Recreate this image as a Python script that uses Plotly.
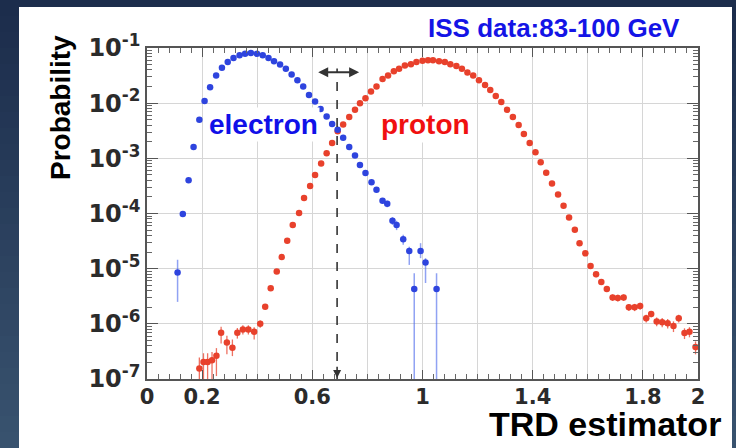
import numpy as np
import plotly.graph_objects as go

# ---------------------------------------------------------------------------
# TRD estimator distributions (ISS data, 83-100 GeV)
# ---------------------------------------------------------------------------
electron_x = [0.111, 0.130, 0.151, 0.169, 0.190, 0.209, 0.229, 0.251, 0.272, 0.293,
              0.314, 0.336, 0.356, 0.377, 0.399, 0.420, 0.441, 0.461, 0.483, 0.504,
              0.525, 0.546, 0.567, 0.588, 0.610, 0.630, 0.652, 0.672, 0.692, 0.712,
              0.734, 0.755, 0.773, 0.793, 0.815, 0.833, 0.855, 0.872, 0.891, 0.906,
              0.930, 0.952, 0.970, 0.993, 1.011, 1.051]
electron_p = [8.5e-6, 9.8e-5, 4.0e-4, 1.6e-3, 5.0e-3, 1.1e-2, 1.95e-2, 3.16e-2, 4.4e-2, 5.6e-2,
              6.6e-2, 7.4e-2, 7.9e-2, 8.1e-2, 7.9e-2, 7.4e-2, 6.6e-2, 5.75e-2, 5.0e-2, 4.2e-2,
              3.3e-2, 2.6e-2, 2.0e-2, 1.4e-2, 1.07e-2, 7.8e-3, 5.75e-3, 4.2e-3, 3.3e-3, 2.35e-3,
              1.6e-3, 1.12e-3, 7.6e-4, 5.4e-4, 3.7e-4, 2.7e-4, 1.7e-4, 1.5e-4, 7.4e-5, 6.2e-5,
              3.4e-5, 2.1e-5, 4.3e-6, 2.1e-5, 1.3e-5, 4.3e-6]
electron_err_up = [6e-6, 0, 0, 0, 0, 0, 0, 0, 0, 0,
                   0, 0, 0, 0, 0, 0, 0, 0, 0, 0,
                   0, 0, 0, 0, 0, 0, 0, 0, 0, 0,
                   0, 0, 0, 0, 0, 0, 0, 2e-5, 1.2e-5, 1.2e-5,
                   7e-6, 4e-6, 4e-6, 8e-6, 2.5e-6, 4e-6]
electron_err_dn = [6e-6, 0, 0, 0, 0, 0, 0, 0, 0, 0,
                   0, 0, 0, 0, 0, 0, 0, 0, 0, 0,
                   0, 0, 0, 0, 0, 0, 0, 0, 0, 0,
                   0, 0, 0, 0, 0, 0, 0, 2e-5, 1.2e-5, 1.2e-5,
                   7e-6, 9.3e-6, 4.3e-6, 5.5e-6, 7.5e-6, 4.3e-6]

proton_x = [0.190, 0.205, 0.220, 0.236, 0.252, 0.269, 0.290, 0.310, 0.328, 0.348,
            0.368, 0.389, 0.411, 0.429, 0.449, 0.471, 0.489, 0.509, 0.529, 0.552,
            0.570, 0.592, 0.610, 0.632, 0.652, 0.672, 0.692, 0.712, 0.734, 0.755,
            0.773, 0.793, 0.813, 0.833, 0.855, 0.875, 0.896, 0.915, 0.936, 0.958,
            0.978, 1.000, 1.020, 1.038, 1.060, 1.081, 1.101, 1.123, 1.143, 1.163,
            1.184, 1.205, 1.227, 1.246, 1.266, 1.286, 1.307, 1.328, 1.349, 1.368,
            1.389, 1.410, 1.429, 1.449, 1.470, 1.492, 1.512, 1.532, 1.553, 1.570,
            1.591, 1.610, 1.630, 1.649, 1.669, 1.690, 1.709, 1.730, 1.749, 1.770,
            1.790, 1.812, 1.830, 1.850, 1.870, 1.890, 1.911, 1.930, 1.951, 1.969,
            1.991]
proton_p = [1.55e-7, 2.04e-7, 2.04e-7, 2.19e-7, 2.63e-7, 6.9e-7, 4.6e-7, 3.7e-7, 6.9e-7, 7.9e-7,
            7.9e-7, 7.2e-7, 1.0e-6, 2.04e-6, 4.4e-6, 8.9e-6, 1.62e-5, 3.2e-5, 6.2e-5, 1.02e-4,
            1.9e-4, 3.16e-4, 5.0e-4, 8.1e-4, 1.23e-3, 1.9e-3, 3.1e-3, 4.1e-3, 5.6e-3, 7.6e-3,
            1.0e-2, 1.23e-2, 1.62e-2, 2.0e-2, 2.75e-2, 3.16e-2, 3.8e-2, 4.2e-2, 4.8e-2, 5.1e-2,
            5.6e-2, 5.9e-2, 6.0e-2, 6.0e-2, 5.75e-2, 5.6e-2, 5.1e-2, 4.7e-2, 4.2e-2, 3.6e-2,
            3.16e-2, 2.6e-2, 2.14e-2, 1.74e-2, 1.35e-2, 1.05e-2, 7.6e-3, 5.6e-3, 4.0e-3, 2.75e-3,
            1.9e-3, 1.29e-3, 8.5e-4, 5.5e-4, 3.5e-4, 2.2e-4, 1.38e-4, 8.5e-5, 5.1e-5, 2.9e-5,
            1.9e-5, 1.12e-5, 7.9e-6, 5.75e-6, 4.3e-6, 3.0e-6, 2.95e-6, 3.0e-6, 2.0e-6, 2.0e-6,
            2.1e-6, 1.26e-6, 1.51e-6, 1.1e-6, 1.07e-6, 1.02e-6, 9.1e-7, 1.26e-6, 6.8e-7, 7.2e-7,
            3.8e-7]
proton_err_up = [0.9e-7, 0.9e-7, 0.9e-7, 0.9e-7, 1.0e-7, 2.0e-7, 1.5e-7, 1.5e-7, 1.5e-7, 1.5e-7,
                 1.5e-7, 1.5e-7, 1.5e-7, 0, 0, 0, 0, 0, 0, 0,
                 0, 0, 0, 0, 0, 0, 0, 0, 0, 0,
                 0, 0, 0, 0, 0, 0, 0, 0, 0, 0,
                 0, 0, 0, 0, 0, 0, 0, 0, 0, 0,
                 0, 0, 0, 0, 0, 0, 0, 0, 0, 0,
                 0, 0, 0, 0, 0, 0, 0, 0, 0, 0,
                 0, 1.2e-6, 0.9e-6, 0.7e-6, 0.5e-6, 0.4e-6, 0.4e-6, 0.4e-6, 0.3e-6, 0.3e-6,
                 0.3e-6, 0.2e-6, 0.2e-6, 0.2e-6, 0.2e-6, 0.2e-6, 0.2e-6, 0.2e-6, 0.15e-6, 0.15e-6,
                 0.1e-6]
proton_err_dn = [1.55e-7, 2.04e-7, 2.04e-7, 1.6e-7, 1.5e-7, 2.5e-7, 1.8e-7, 1.1e-7, 1.5e-7, 1.5e-7,
                 1.5e-7, 2.0e-7, 1.5e-7, 0, 0, 0, 0, 0, 0, 0,
                 0, 0, 0, 0, 0, 0, 0, 0, 0, 0,
                 0, 0, 0, 0, 0, 0, 0, 0, 0, 0,
                 0, 0, 0, 0, 0, 0, 0, 0, 0, 0,
                 0, 0, 0, 0, 0, 0, 0, 0, 0, 0,
                 0, 0, 0, 0, 0, 0, 0, 0, 0, 0,
                 0, 1.2e-6, 0.9e-6, 0.7e-6, 0.5e-6, 0.4e-6, 0.4e-6, 0.4e-6, 0.3e-6, 0.3e-6,
                 0.3e-6, 0.2e-6, 0.2e-6, 0.2e-6, 0.2e-6, 0.2e-6, 0.2e-6, 0.2e-6, 0.15e-6, 0.15e-6,
                 0.1e-6]

# electron/proton separation cut and its scan range
cut_x = 0.69
cut_range = [0.616, 0.770]

# axis ticks
x_tick_vals = [0, 0.2, 0.4, 0.6, 0.8, 1.0, 1.2, 1.4, 1.6, 1.8, 2.0]
x_tick_text = ["0", "0.2", "", "0.6", "", "1", "", "1.4", "", "1.8", "2"]
y_tick_vals = [1e-7, 1e-6, 1e-5, 1e-4, 1e-3, 1e-2, 1e-1]
y_tick_text = ["10<sup>-7</sup>", "10<sup>-6</sup>", "10<sup>-5</sup>", "10<sup>-4</sup>",
               "10<sup>-3</sup>", "10<sup>-2</sup>", "10<sup>-1</sup>"]

# ---------------------------------------------------------------------------
FONT = "Liberation Sans, Arial, Helvetica, sans-serif"
TICK_FONT = "DejaVu Sans, Liberation Sans, Arial, sans-serif"
W, H = 736, 448
L, R, T, B = 147, 38, 48, 69
PW, PH = W - L - R, H - T - B


def px(xp):
    """pixel column -> paper x"""
    return (xp - L) / PW


def py(yp):
    """pixel row -> paper y"""
    return (H - B - yp) / PH


fig = go.Figure()

fig.add_trace(go.Scatter(
    x=proton_x, y=proton_p, mode="markers", name="proton",
    marker=dict(size=6.5, color="#e8412c", line=dict(width=0)),
    error_y=dict(type="data", symmetric=False, array=proton_err_up,
                 arrayminus=proton_err_dn, color="rgba(232,65,44,0.75)",
                 thickness=1.3, width=0),
    showlegend=False,
))
fig.add_trace(go.Scatter(
    x=electron_x, y=electron_p, mode="markers", name="electron",
    marker=dict(size=6.5, color="#2e44de", line=dict(width=0)),
    error_y=dict(type="data", symmetric=False, array=electron_err_up,
                 arrayminus=electron_err_dn, color="rgba(70,100,235,0.6)",
                 thickness=1.5, width=0),
    showlegend=False,
))

axis_common = dict(
    showline=True, linecolor="#555555", linewidth=1.5, mirror="ticks",
    ticks="inside", tickcolor="#555555", tickwidth=1.2,
    showgrid=True, gridcolor="#d6d6d6", gridwidth=1, zeroline=False,
)

fig.update_xaxes(
    range=[0, 2], tickmode="array", tickvals=x_tick_vals, ticktext=x_tick_text,
    ticklen=9, ticklabelstandoff=-2,
    tickfont=dict(family=TICK_FONT, size=21, color="#2b2b2b", weight="bold"),
    minor=dict(tickmode="array", tickvals=list(np.round(np.arange(0, 2.001, 0.04), 3)),
               ticks="inside", ticklen=5, tickcolor="#666666", showgrid=False),
    **axis_common,
)
fig.update_yaxes(
    type="log", range=[-7, -1], tickmode="array", tickvals=y_tick_vals,
    ticktext=y_tick_text, ticklen=11,
    tickfont=dict(family=TICK_FONT, size=24, color="#2b2b2b", weight="bold"),
    minor=dict(tickmode="array",
               tickvals=[m * 10.0 ** e for e in range(-7, -1) for m in range(2, 10)],
               ticks="inside", ticklen=5, tickcolor="#666666", showgrid=False),
    **axis_common,
)

# slide background: dark navy at the top fading to a lighter slate blue
shapes = []
top_rgb = np.array([28, 45, 76])
bot_rgb = np.array([58, 84, 112])
band = 16
for y0 in range(0, H, band):
    t = y0 / H
    r, g, b = (top_rgb + (bot_rgb - top_rgb) * t).astype(int)
    shapes.append(dict(type="rect", xref="paper", yref="paper", layer="below",
                       x0=px(0), x1=px(W), y0=py(min(y0 + band, H) + 1), y1=py(y0),
                       fillcolor=f"rgb({r},{g},{b})", line=dict(width=0)))

shapes += [
    # white panel on the slide
    dict(type="rect", xref="paper", yref="paper", layer="below",
         x0=px(19), x1=px(732), y0=py(H + 2), y1=py(7),
         fillcolor="white", line=dict(width=0)),
    # dashed cut line
    dict(type="line", xref="x", yref="y", x0=cut_x, x1=cut_x, y0=1e-7, y1=10 ** -1.37,
         line=dict(color="#333333", width=1.6, dash="dash")),
]

annotations = [
    dict(text="Probability", xref="paper", yref="paper", x=px(60), y=py(108),
         textangle=-90, showarrow=False, xanchor="center", yanchor="middle",
         font=dict(family=FONT, size=28, color="black", weight="bold")),
    dict(text="TRD estimator", xref="paper", yref="paper", x=px(723), y=py(424),
         showarrow=False, xanchor="right", yanchor="middle",
         font=dict(family=FONT, size=34, color="black", weight="bold")),
    dict(text="ISS data:83-100 GeV", xref="paper", yref="paper", x=px(682), y=py(28),
         showarrow=False, xanchor="right", yanchor="middle",
         font=dict(family=FONT, size=26, color="#1414e6", weight="bold")),
    dict(text="electron", xref="paper", yref="paper", x=px(263), y=py(125),
         showarrow=False, xanchor="center", yanchor="middle", bgcolor="white",
         borderpad=1,
         font=dict(family=FONT, size=28, color="#1010e8", weight="bold")),
    dict(text="proton", xref="paper", yref="paper", x=px(425), y=py(125),
         showarrow=False, xanchor="center", yanchor="middle", bgcolor="white",
         borderpad=2,
         font=dict(family=FONT, size=28, color="#f01010", weight="bold")),
    # double-headed arrow showing the cut scan range (log10 units on y)
    dict(text="", x=cut_range[1], y=-1.44, ax=cut_range[0], ay=-1.44,
         xref="x", yref="y", axref="x", ayref="y", showarrow=True,
         arrowhead=2, startarrowhead=2, arrowside="end+start", arrowsize=1,
         startarrowsize=1, arrowwidth=2, arrowcolor="#333333"),
    # arrow head at the bottom of the cut line
    dict(text="", x=cut_x, y=-6.98, ax=cut_x, ay=-6.75,
         xref="x", yref="y", axref="x", ayref="y", showarrow=True,
         arrowhead=2, arrowsize=1, arrowwidth=1.6, arrowcolor="#333333"),
]

fig.update_layout(
    width=W, height=H,
    margin=dict(l=L, r=R, t=T, b=B, pad=0),
    paper_bgcolor="#22375a", plot_bgcolor="white",
    font=dict(family=FONT),
    shapes=shapes, annotations=annotations,
)

fig.write_html("out.html")
